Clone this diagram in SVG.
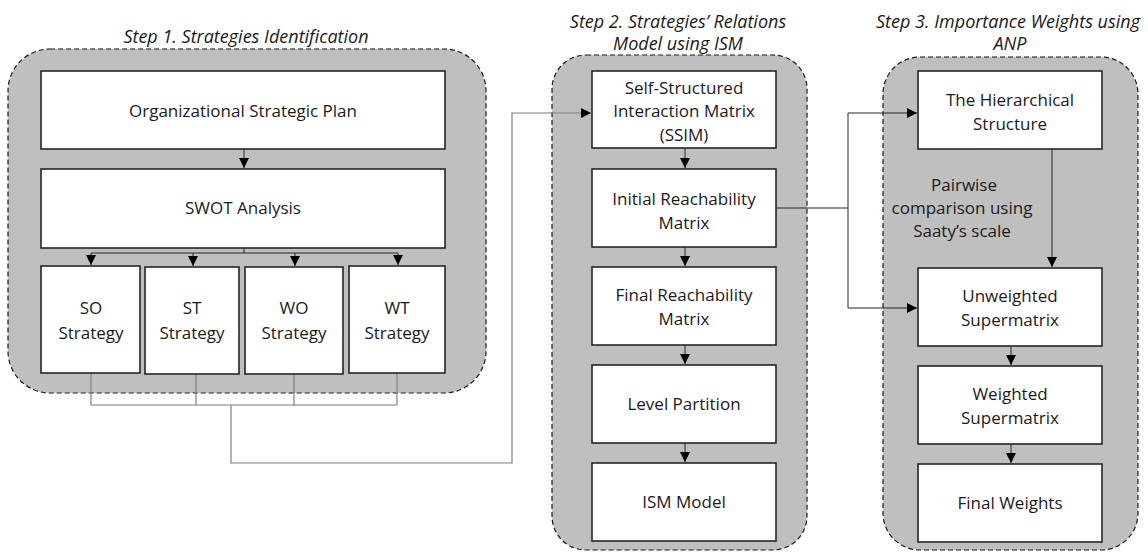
<svg xmlns="http://www.w3.org/2000/svg" width="1148" height="552" viewBox="0 0 1148 552">
<style>
.cont{fill:#bfbfbf;stroke:#1a1a1a;stroke-width:1.2;stroke-dasharray:5,3}
.box{fill:#fff;stroke:#262626;stroke-width:1.6}
.t{font-family:"Open Sans","Noto Sans",sans-serif;font-size:17px;fill:#1a1a1a;text-anchor:middle}
.ti{font-family:"Open Sans","Noto Sans",sans-serif;font-size:18px;font-style:italic;fill:#1a1a1a;text-anchor:middle}
.c{fill:none;stroke:#262626;stroke-width:1}
.g{fill:none;stroke:#7f7f7f;stroke-width:1.2}
</style>
<defs>
<marker id="ah" markerUnits="userSpaceOnUse" markerWidth="10" markerHeight="10" refX="8" refY="4" orient="auto" viewBox="0 0 8 8">
<path d="M0,0 L8,4 L0,8 z" fill="#000"/>
</marker>
</defs>
<g id="containers">
<rect class="cont" x="8" y="49" width="478" height="344" rx="42"/>
<rect class="cont" x="552" y="55" width="255" height="495" rx="34"/>
<rect class="cont" x="883" y="57" width="255" height="493" rx="37"/>
<text class="ti" x="246" y="43">Step 1. Strategies Identification</text>
<text class="ti" x="678" y="28">Step 2. Strategies’ Relations</text>
<text class="ti" x="678" y="50">Model using ISM</text>
<text class="ti" x="1008" y="28">Step 3. Importance Weights using</text>
<text class="ti" x="1010" y="50">ANP</text>
</g>
<g id="connectors">
<path class="c" d="M244,149 V168" marker-end="url(#ah)"/>
<path class="c" d="M244,248 V253"/>
<path class="c" d="M91,253 H398"/>
<path class="c" d="M91,253 V265" marker-end="url(#ah)"/>
<path class="c" d="M193,253 V266" marker-end="url(#ah)"/>
<path class="c" d="M295,253 V266" marker-end="url(#ah)"/>
<path class="c" d="M398,253 V265" marker-end="url(#ah)"/>
<path class="g" d="M91,373 V405 H397 M196,374 V405 M294,374 V406 M397,373 V405"/>
<path class="g" d="M231,405 V463 H512 V113 H591" marker-end="url(#ah)"/>
<path class="c" d="M685,148 V168" marker-end="url(#ah)"/>
<path class="c" d="M685,247 V266" marker-end="url(#ah)"/>
<path class="c" d="M685,345 V364" marker-end="url(#ah)"/>
<path class="c" d="M685,443 V462" marker-end="url(#ah)"/>
<path class="c" d="M776,208 H848"/>
<path class="c" d="M848,113 V308"/>
<path class="c" d="M848,113 H917" marker-end="url(#ah)"/>
<path class="c" d="M848,308 H917" marker-end="url(#ah)"/>
<path class="c" d="M1052,149 V267" marker-end="url(#ah)"/>
<path class="c" d="M1011,346 V365" marker-end="url(#ah)"/>
<path class="c" d="M1011,444 V463" marker-end="url(#ah)"/>
</g>
<g id="org-plan"><rect class="box" x="41" y="71" width="404" height="78"/><text class="t" x="243" y="117">Organizational Strategic Plan</text></g>
<g id="swot"><rect class="box" x="41" y="169" width="404" height="79"/><text class="t" x="243" y="214">SWOT Analysis</text></g>
<g id="so"><rect class="box" x="41" y="266" width="99" height="107"/><text class="t" x="91" y="314">SO</text><text class="t" x="91" y="339">Strategy</text></g>
<g id="st"><rect class="box" x="145" y="267" width="94" height="107"/><text class="t" x="192" y="314">ST</text><text class="t" x="192" y="339">Strategy</text></g>
<g id="wo"><rect class="box" x="245" y="267" width="98" height="107"/><text class="t" x="294" y="314">WO</text><text class="t" x="294" y="339">Strategy</text></g>
<g id="wt"><rect class="box" x="349" y="266" width="96" height="107"/><text class="t" x="397" y="314">WT</text><text class="t" x="397" y="339">Strategy</text></g>
<g id="ssim"><rect class="box" x="592" y="71" width="184" height="77"/><text class="t" x="684" y="94">Self-Structured</text><text class="t" x="684" y="117">Interaction Matrix</text><text class="t" x="684" y="141">(SSIM)</text></g>
<g id="irm"><rect class="box" x="592" y="169" width="184" height="78"/><text class="t" x="684" y="205">Initial Reachability</text><text class="t" x="684" y="229">Matrix</text></g>
<g id="frm"><rect class="box" x="592" y="267" width="184" height="78"/><text class="t" x="684" y="301">Final Reachability</text><text class="t" x="684" y="325">Matrix</text></g>
<g id="lp"><rect class="box" x="592" y="365" width="184" height="78"/><text class="t" x="684" y="410">Level Partition</text></g>
<g id="ism"><rect class="box" x="592" y="463" width="184" height="78"/><text class="t" x="684" y="508">ISM Model</text></g>
<g id="hier"><rect class="box" x="918" y="71" width="184" height="78"/><text class="t" x="1010" y="106">The Hierarchical</text><text class="t" x="1010" y="130">Structure</text></g>
<g id="pairwise-label"><text class="t" x="964" y="191">Pairwise</text><text class="t" x="962" y="214">comparison using</text><text class="t" x="962" y="237">Saaty’s scale</text></g>
<g id="unw"><rect class="box" x="918" y="268" width="184" height="78"/><text class="t" x="1010" y="302">Unweighted</text><text class="t" x="1010" y="326">Supermatrix</text></g>
<g id="wsm"><rect class="box" x="918" y="366" width="184" height="78"/><text class="t" x="1010" y="400">Weighted</text><text class="t" x="1010" y="424">Supermatrix</text></g>
<g id="fw"><rect class="box" x="918" y="464" width="184" height="78"/><text class="t" x="1010" y="509">Final Weights</text></g>
</svg>
